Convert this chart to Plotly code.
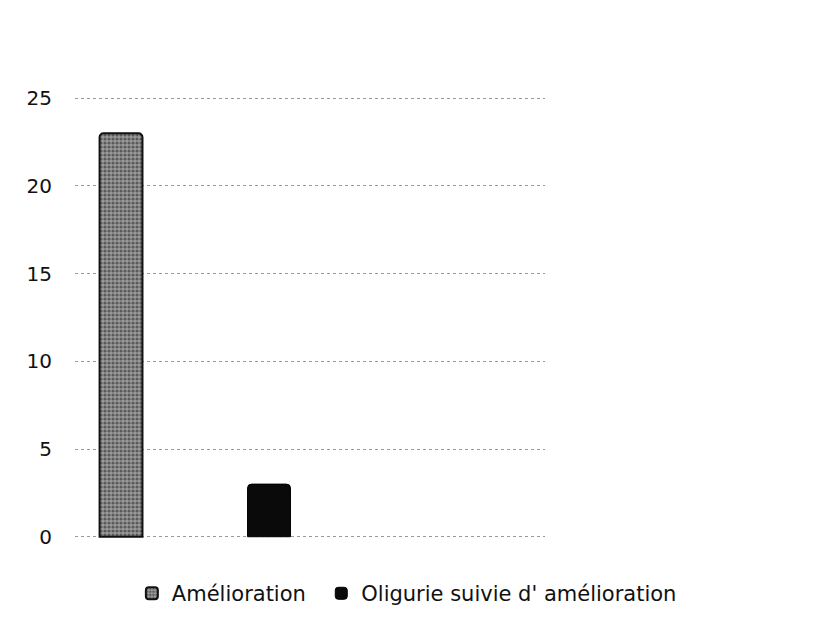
import plotly.graph_objects as go

categories = ["Amélioration", "Oligurie suivie d' amélioration"]
values = [23, 3]
tick_vals = [0, 5, 10, 15, 20, 25]

fig = go.Figure()
fig.add_trace(go.Bar(
    x=[categories[0]], y=[values[0]], name=categories[0], width=0.29, legend="legend",
    marker=dict(color="#8a8a8a", line=dict(color="#111111", width=2), cornerradius=4,
                pattern=dict(shape=".", fgcolor="#1a1a1a", bgcolor="#9a9a9a", size=4, solidity=0.5)),
))
fig.add_trace(go.Bar(
    x=[categories[1]], y=[values[1]], name=categories[1], width=0.29, legend="legend2",
    marker=dict(color="#0a0a0a", line=dict(color="#000000", width=1), cornerradius=4),
))

leg_common = dict(orientation="h", xanchor="left", y=-0.115, yanchor="middle",
                  font=dict(size=21, color="#111111"), itemwidth=30, bgcolor="rgba(0,0,0,0)")

fig.update_layout(
    width=819, height=621,
    paper_bgcolor="white", plot_bgcolor="white",
    margin=dict(l=67, r=282, t=85, b=87),
    font=dict(family="DejaVu Sans, Open Sans, sans-serif", color="#111111"),
    showlegend=True,
    legend=dict(x=0.121, **leg_common),
    legend2=dict(x=0.524, **leg_common),
    xaxis=dict(type="category", categoryorder="array", categoryarray=categories,
               range=[-0.311, 2.865], showticklabels=False, showgrid=False,
               zeroline=False, showline=False, ticks=""),
    yaxis=dict(range=[-0.3, 25.3], tickvals=tick_vals, showgrid=True, gridcolor="#9a9a9a",
               griddash="dot", gridwidth=1, zeroline=False, showline=False,
               tickfont=dict(size=20, color="#111111"), ticklabelstandoff=22),
)

fig.write_html("out.html")
